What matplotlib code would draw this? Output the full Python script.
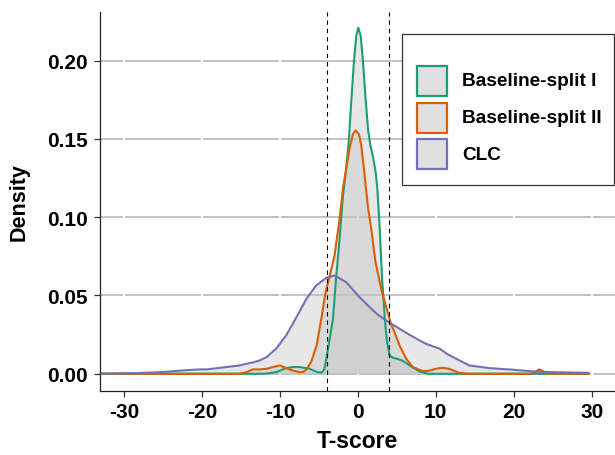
import numpy as np
import matplotlib.pyplot as plt
from matplotlib.patches import Rectangle

plt.rcParams['font.family'] = ['Liberation Sans', 'DejaVu Sans']
plt.rcParams['font.weight'] = 'bold'

# data (T-score, density)
labels = ['Baseline-split I', 'Baseline-split II', 'CLC']
colors = ['#1B9E77', '#D95F02', '#7570B3']

x_b1 = [-34, -12, -10.5, -9.2, -8.3, -7.5, -6.2, -5.2, -4.6, -4.3, -3.9, -3.5, -3.2, -2.8,
        -2.35, -1.95, -1.5, -1.15, -0.85, -0.5, -0.2, 0.05, 0.35, 0.65, 0.95, 1.3, 1.6, 2.0,
        2.3, 2.5, 2.8, 3.1, 3.46, 3.7, 4.06, 4.5, 5.0, 5.5, 6.0, 6.9, 7.9, 9.0, 29.6]
y_b1 = [0, 0, 0.001, 0.0036, 0.0043, 0.0043, 0.0032, 0.001, 0.0008, 0.003, 0.014, 0.026, 0.035, 0.061,
        0.086, 0.112, 0.131, 0.150, 0.174, 0.200, 0.216, 0.221, 0.216, 0.200, 0.178, 0.156, 0.146, 0.137,
        0.128, 0.118, 0.093, 0.061, 0.035, 0.022, 0.0117, 0.0102, 0.0096, 0.0088, 0.0075, 0.0045, 0.0015, 0.0, 0]

x_b2 = [-34, -15.2, -14.3, -13.5, -12.6, -11.7, -10.9, -10.0, -9.2, -8.3, -7.5, -7.0, -6.6, -6.0,
        -5.3, -4.7, -4.15, -3.6, -3.0, -2.35, -1.9, -1.5, -1.06, -0.64, -0.3, 0.13, 0.43, 0.77,
        1.0, 1.3, 1.7, 2.27, 3.0, 3.7, 4.3, 4.7, 5.35, 6.2, 7.05, 8.3, 9.2, 10.0, 10.7, 11.4,
        12.0, 13.0, 14.0, 22.3, 22.8, 23.3, 23.8, 24.3, 29.6]
y_b2 = [0, 0, 0.001, 0.0028, 0.0028, 0.0032, 0.0043, 0.0053, 0.0036, 0.002, 0.001, 0.0012, 0.0028, 0.0075,
        0.018, 0.035, 0.052, 0.0628, 0.0755, 0.099, 0.119, 0.131, 0.144, 0.153, 0.1554, 0.153, 0.146, 0.131,
        0.12, 0.106, 0.093, 0.071, 0.054, 0.0415, 0.031, 0.0266, 0.018, 0.0096, 0.0043, 0.0017, 0.002, 0.0032, 0.0038, 0.0035,
        0.0026, 0.0006, 0, 0, 0.0015, 0.0028, 0.0015, 0, 0]

x_clc = [-34, -28.9, -25.4, -22, -20.3, -19.4, -17.7, -15.2, -14.3, -13.5, -12.6, -11.7, -10.5, -9.2,
         -7.9, -6.6, -5.35, -4.05, -3.0, -1.5, 0.0, 1.5, 2.5, 3.64, 5.35, 6.6, 7.9, 8.8, 10.5, 11.5,
         12.6, 13.9, 14.3, 16.9, 19.9, 22.4, 25, 29.6]
y_clc = [0, 0.0004, 0.001, 0.0023, 0.0028, 0.0028, 0.0038, 0.0053, 0.0064, 0.0072, 0.0085, 0.0107, 0.016, 0.0245,
         0.036, 0.0479, 0.0564, 0.0613, 0.0628, 0.0585, 0.050, 0.0426, 0.038, 0.034, 0.0287, 0.025, 0.0213, 0.019, 0.016, 0.0125,
         0.0096, 0.0064, 0.0053, 0.0036, 0.0026, 0.0015, 0.001, 0.0006]

cutoffs = [-4, 4]
xticks = [-30, -20, -10, 0, 10, 20, 30]
yticks = [0.00, 0.05, 0.10, 0.15, 0.20]

fig = plt.figure(figsize=(6.15, 4.56), dpi=100)
ax = fig.add_axes([100/615, 64/456, 515/615, 379/456])
ax.set_xlim(-33.1, 33.0)
ax.set_ylim(-0.011, 0.231)

# grid: grey horizontal majors, white verticals and minors
for v in [-25, -15, -5, 5, 15, 25]:
    ax.axvline(v, color='white', lw=0.8, zorder=0.3)
for v in [0.025, 0.075, 0.125, 0.175, 0.225]:
    ax.axhline(v, color='white', lw=0.8, zorder=0.3)
for v in yticks:
    ax.axhline(v, color='#bdbdbd', lw=1.3, zorder=0.5)
for v in xticks:
    ax.axvline(v, color='white', lw=1.6, zorder=0.6)

series = [(x_b1, y_b1), (x_b2, y_b2), (x_clc, y_clc)]
for (xs, ys), c in zip(series, colors):
    ax.fill_between(xs, 0, ys, color='#c4c4c4', alpha=0.4, lw=0, zorder=1)
for (xs, ys), c in zip(series, colors):
    ax.plot(xs, ys, color=c, lw=1.5, zorder=2)

for v in cutoffs:
    ax.axvline(v, color='black', lw=0.8, ls=(0, (4, 3.5)), zorder=3)

ax.set_xticks(xticks)
ax.set_xticklabels([str(t) for t in xticks])
ax.set_yticks(yticks)
ax.set_yticklabels(['%.2f' % t for t in yticks])
ax.tick_params(axis='both', labelsize=15, width=0.9, length=4, color='#333333')
ax.tick_params(axis='x', pad=4)
ax.tick_params(axis='y', pad=5)
for s in ['top', 'right']:
    ax.spines[s].set_visible(False)
for s in ['left', 'bottom']:
    ax.spines[s].set_linewidth(0.9)
    ax.spines[s].set_color('#222222')

ax.set_xlabel('T-score', fontsize=16.5, fontweight='bold', labelpad=6)
ax.set_ylabel('Density', fontsize=15.5, fontweight='bold', labelpad=12)

# legend drawn by hand (pixel layout of the reference)
def ax_xy(px, py):
    return (px - 100) / 515, (392 - py) / 379

bx, by = ax_xy(402, 186)
ax.add_patch(Rectangle((bx, by), 212/515, 151/379, transform=ax.transAxes,
                       facecolor='white', edgecolor='#333333', lw=0.9, clip_on=False, zorder=5))
for i, (lab, c) in enumerate(zip(labels, colors)):
    top = 66 + i * 36.7
    kx, ky = ax_xy(417, top + 31)
    ax.add_patch(Rectangle((kx, ky), 30/515, 30/379, transform=ax.transAxes,
                           facecolor='#e0e0e0', edgecolor=c, lw=1.6, clip_on=False, zorder=6))
    tx, ty = ax_xy(462, top + 16)
    ax.text(tx, ty, lab, transform=ax.transAxes, ha='left', va='center',
            fontsize=13.7, fontweight='bold', zorder=7)

fig.savefig('out.png', dpi=100)
